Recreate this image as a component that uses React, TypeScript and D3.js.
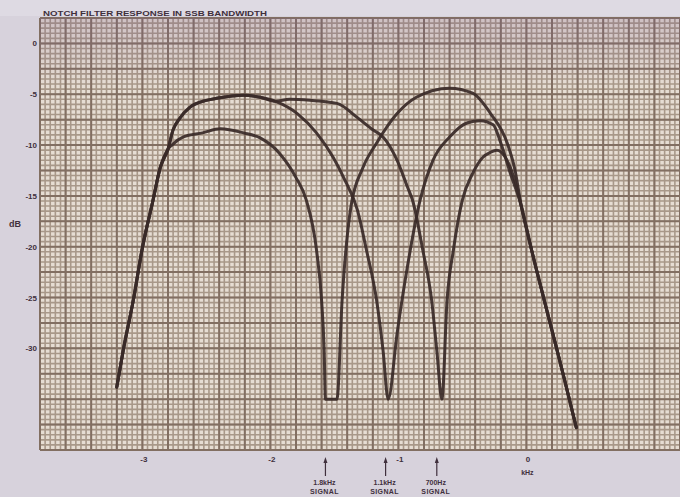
import React from 'react';
import * as d3 from 'd3';

const W = 680;
const H = 497;

const title = 'NOTCH FILTER RESPONSE IN SSB BANDWIDTH';
const yTickValues = [0, -5, -10, -15, -20, -25, -30];
const xTickValues = [-3, -2, -1, 0];
const xTickLabels = ['-3', '-2', '-1', '0'];
const xUnit = 'kHz';
const yUnit = 'dB';
const signalPositions = [-1.57, -1.1, -0.7];
const signalLabels = ['1.8kHz', '1.1kHz', '700Hz'];
const signalWord = 'SIGNAL';

type P = [number, number];

// shared lower-left skirt (kHz, dB)
const leftSkirt: P[] = [
  [-3.2, -33.8], [-3.15, -30.2], [-3.07, -25.2], [-3.0, -20.1],
  [-2.92, -15.6], [-2.86, -12.2], [-2.8, -10.4],
];
// upper arc shared by 1.1 kHz and 700 Hz curves
const upperArc: P[] = [
  [-2.76, -8.5], [-2.71, -7.4], [-2.63, -6.3], [-2.5, -5.6], [-2.42, -5.4],
  [-2.21, -5.1], [-2.08, -5.3], [-1.96, -5.7],
];
// 1.8 kHz signal curve, middle part
const notch1800: P[] = [
  [-2.77, -10.0], [-2.68, -9.2], [-2.53, -8.8], [-2.39, -8.4], [-2.21, -8.8],
  [-2.08, -9.3], [-1.93, -10.8], [-1.8, -13.2], [-1.72, -15.4], [-1.64, -20.3],
  [-1.6, -25.3], [-1.58, -30.2], [-1.57, -35], [-1.48, -35], [-1.44, -25.3],
  [-1.37, -16.0], [-1.28, -12.3], [-1.17, -9.8], [-1.01, -6.9], [-0.86, -5.3],
  [-0.6, -4.4], [-0.42, -4.9], [-0.28, -6.9], [-0.15, -9.8], [-0.09, -12.4],
];
// 1.1 kHz signal curve, after the shared upper arc
const notch1100: P[] = [
  [-1.79, -6.9], [-1.64, -8.8], [-1.51, -11.2], [-1.42, -13.4], [-1.32, -16.4],
  [-1.25, -20.3], [-1.17, -25.3], [-1.12, -30.2], [-1.08, -35], [-1.01, -28.5],
  [-0.93, -22.0], [-0.83, -15.4], [-0.73, -11.5], [-0.6, -9.2], [-0.46, -7.8],
  [-0.36, -7.6], [-0.26, -8.0], [-0.2, -9.8], [-0.13, -12.6],
];
// 700 Hz signal curve, after the shared upper arc
const notch700: P[] = [
  [-1.85, -5.5], [-1.69, -5.6], [-1.48, -5.9], [-1.32, -7.3], [-1.2, -8.5],
  [-1.12, -9.2], [-1.01, -11.5], [-0.93, -14.1], [-0.89, -15.4], [-0.81, -20.3],
  [-0.74, -25.3], [-0.7, -30.2], [-0.66, -35], [-0.62, -25.3], [-0.57, -20.3],
  [-0.5, -15.4], [-0.42, -12.8], [-0.34, -11.2], [-0.28, -10.7], [-0.23, -10.5],
  [-0.17, -11.1], [-0.1, -13.1],
];
// shared lower-right skirt
const rightSkirt: P[] = [
  [-0.04, -16.0], [0.04, -20.3], [0.14, -25.3], [0.24, -30.2], [0.3, -33.2], [0.39, -37.8],
];

const curves: P[][] = [
  [...leftSkirt, ...notch1800, ...rightSkirt],
  [...leftSkirt, ...upperArc, ...notch1100, ...rightSkirt],
  [...leftSkirt, ...upperArc, ...notch700, ...rightSkirt],
];

const X0 = 40, X1 = 680, Y0 = 18, Y1 = 450;

export default function App() {
  const x = d3.scaleLinear().domain([-3.8, 1.2]).range([X0, X1]);
  const y = d3.scaleLinear().domain([2.5, -40]).range([Y0, Y1]);

  const minorX = d3.range(0, 126).map((i) => -3.8 + i * 0.04);
  const minorY = d3.range(0, 86).map((i) => 2.5 - i * 0.5);
  const majorX = d3.range(0, 26).map((i) => -3.8 + i * 0.2);
  const majorY = d3.range(0, 18).map((i) => 2.5 - i * 2.5);

  const line = d3
    .line<P>()
    .x((d) => x(d[0]))
    .y((d) => y(d[1]))
    .curve(d3.curveMonotoneX);

  const font = "'Liberation Sans', 'DejaVu Sans', Arial, sans-serif";
  const ink = '#3f2f3c';

  return (
    <svg
      width={W}
      height={H}
      viewBox={`0 0 ${W} ${H}`}
      style={{ position: 'absolute', left: 0, top: 0, display: 'block' }}
    >
      <defs>
        <linearGradient id="topTint" x1="0" y1="0" x2="0" y2="1">
          <stop offset="0" stopColor="#7a5a8c" stopOpacity={0.22} />
          <stop offset="1" stopColor="#7a5a8c" stopOpacity={0} />
        </linearGradient>
      </defs>
      <rect x={0} y={0} width={W} height={H} fill="#d7d2dc" />
      <rect x={0} y={0} width={W} height={Y0 - 2} fill="#dedae3" />
      <rect x={X0} y={Y0} width={X1 - X0} height={Y1 - Y0} fill="#e6ddd3" />
      <g>
        {minorX.map((v, i) => (
          <line key={'mx' + i} x1={x(v)} x2={x(v)} y1={Y0} y2={Y1} stroke="#a89889" strokeWidth={1.6} />
        ))}
        {minorY.map((v, i) => (
          <line key={'my' + i} x1={X0} x2={X1} y1={y(v)} y2={y(v)} stroke="#a89889" strokeWidth={1.6} />
        ))}
        {majorX.map((v, i) => (
          <line key={'Mx' + i} x1={x(v)} x2={x(v)} y1={Y0} y2={Y1} stroke="#826f62" strokeWidth={2} />
        ))}
        {majorY.map((v, i) => (
          <line key={'My' + i} x1={X0} x2={X1} y1={y(v)} y2={y(v)} stroke="#826f62" strokeWidth={2} />
        ))}
      </g>
      <rect x={X0} y={Y0} width={X1 - X0} height={70} fill="url(#topTint)" />

      {curves.map((c, i) => (
        <path key={'c' + i} d={line(c) || ''} fill="none" stroke="#3a2a28" strokeWidth={3} strokeLinejoin="round" strokeLinecap="round" opacity={0.92} />
      ))}

      <text x={43} y={16} fontFamily={font} fontWeight="bold" fontSize={8} fill={ink} textLength={224} lengthAdjust="spacingAndGlyphs">
        {title}
      </text>

      {yTickValues.map((v) => (
        <text key={'yt' + v} x={37} y={y(v) + 3} textAnchor="end" fontFamily={font} fontWeight="bold" fontSize={8} fill={ink}>
          {String(v)}
        </text>
      ))}
      <text x={15} y={227} textAnchor="middle" fontFamily={font} fontWeight="bold" fontSize={9} fill={ink}>
        {yUnit}
      </text>

      {xTickValues.map((v, i) => (
        <text key={'xt' + v} x={x(v) + 1.5} y={462} textAnchor="middle" fontFamily={font} fontWeight="bold" fontSize={8} fill={ink}>
          {xTickLabels[i]}
        </text>
      ))}
      <text x={x(0) + 1} y={475} textAnchor="middle" fontFamily={font} fontWeight="bold" fontSize={7} fill={ink}>
        {xUnit}
      </text>

      {signalPositions.map((v, i) => (
        <g key={'s' + i}>
          <line x1={x(v)} x2={x(v)} y1={461} y2={476} stroke={ink} strokeWidth={1.2} />
          <path d={`M${x(v) - 2},${463} L${x(v)},${457} L${x(v) + 2},${463} Z`} fill={ink} />
          <text x={x(v) - 1} y={485} textAnchor="middle" fontFamily={font} fontWeight="bold" fontSize={7} fill={ink}>
            {signalLabels[i]}
          </text>
          <text x={x(v) - 1} y={494} textAnchor="middle" fontFamily={font} fontWeight="bold" fontSize={7} fill={ink} letterSpacing={0.4}>
            {signalWord}
          </text>
        </g>
      ))}
    </svg>
  );
}
